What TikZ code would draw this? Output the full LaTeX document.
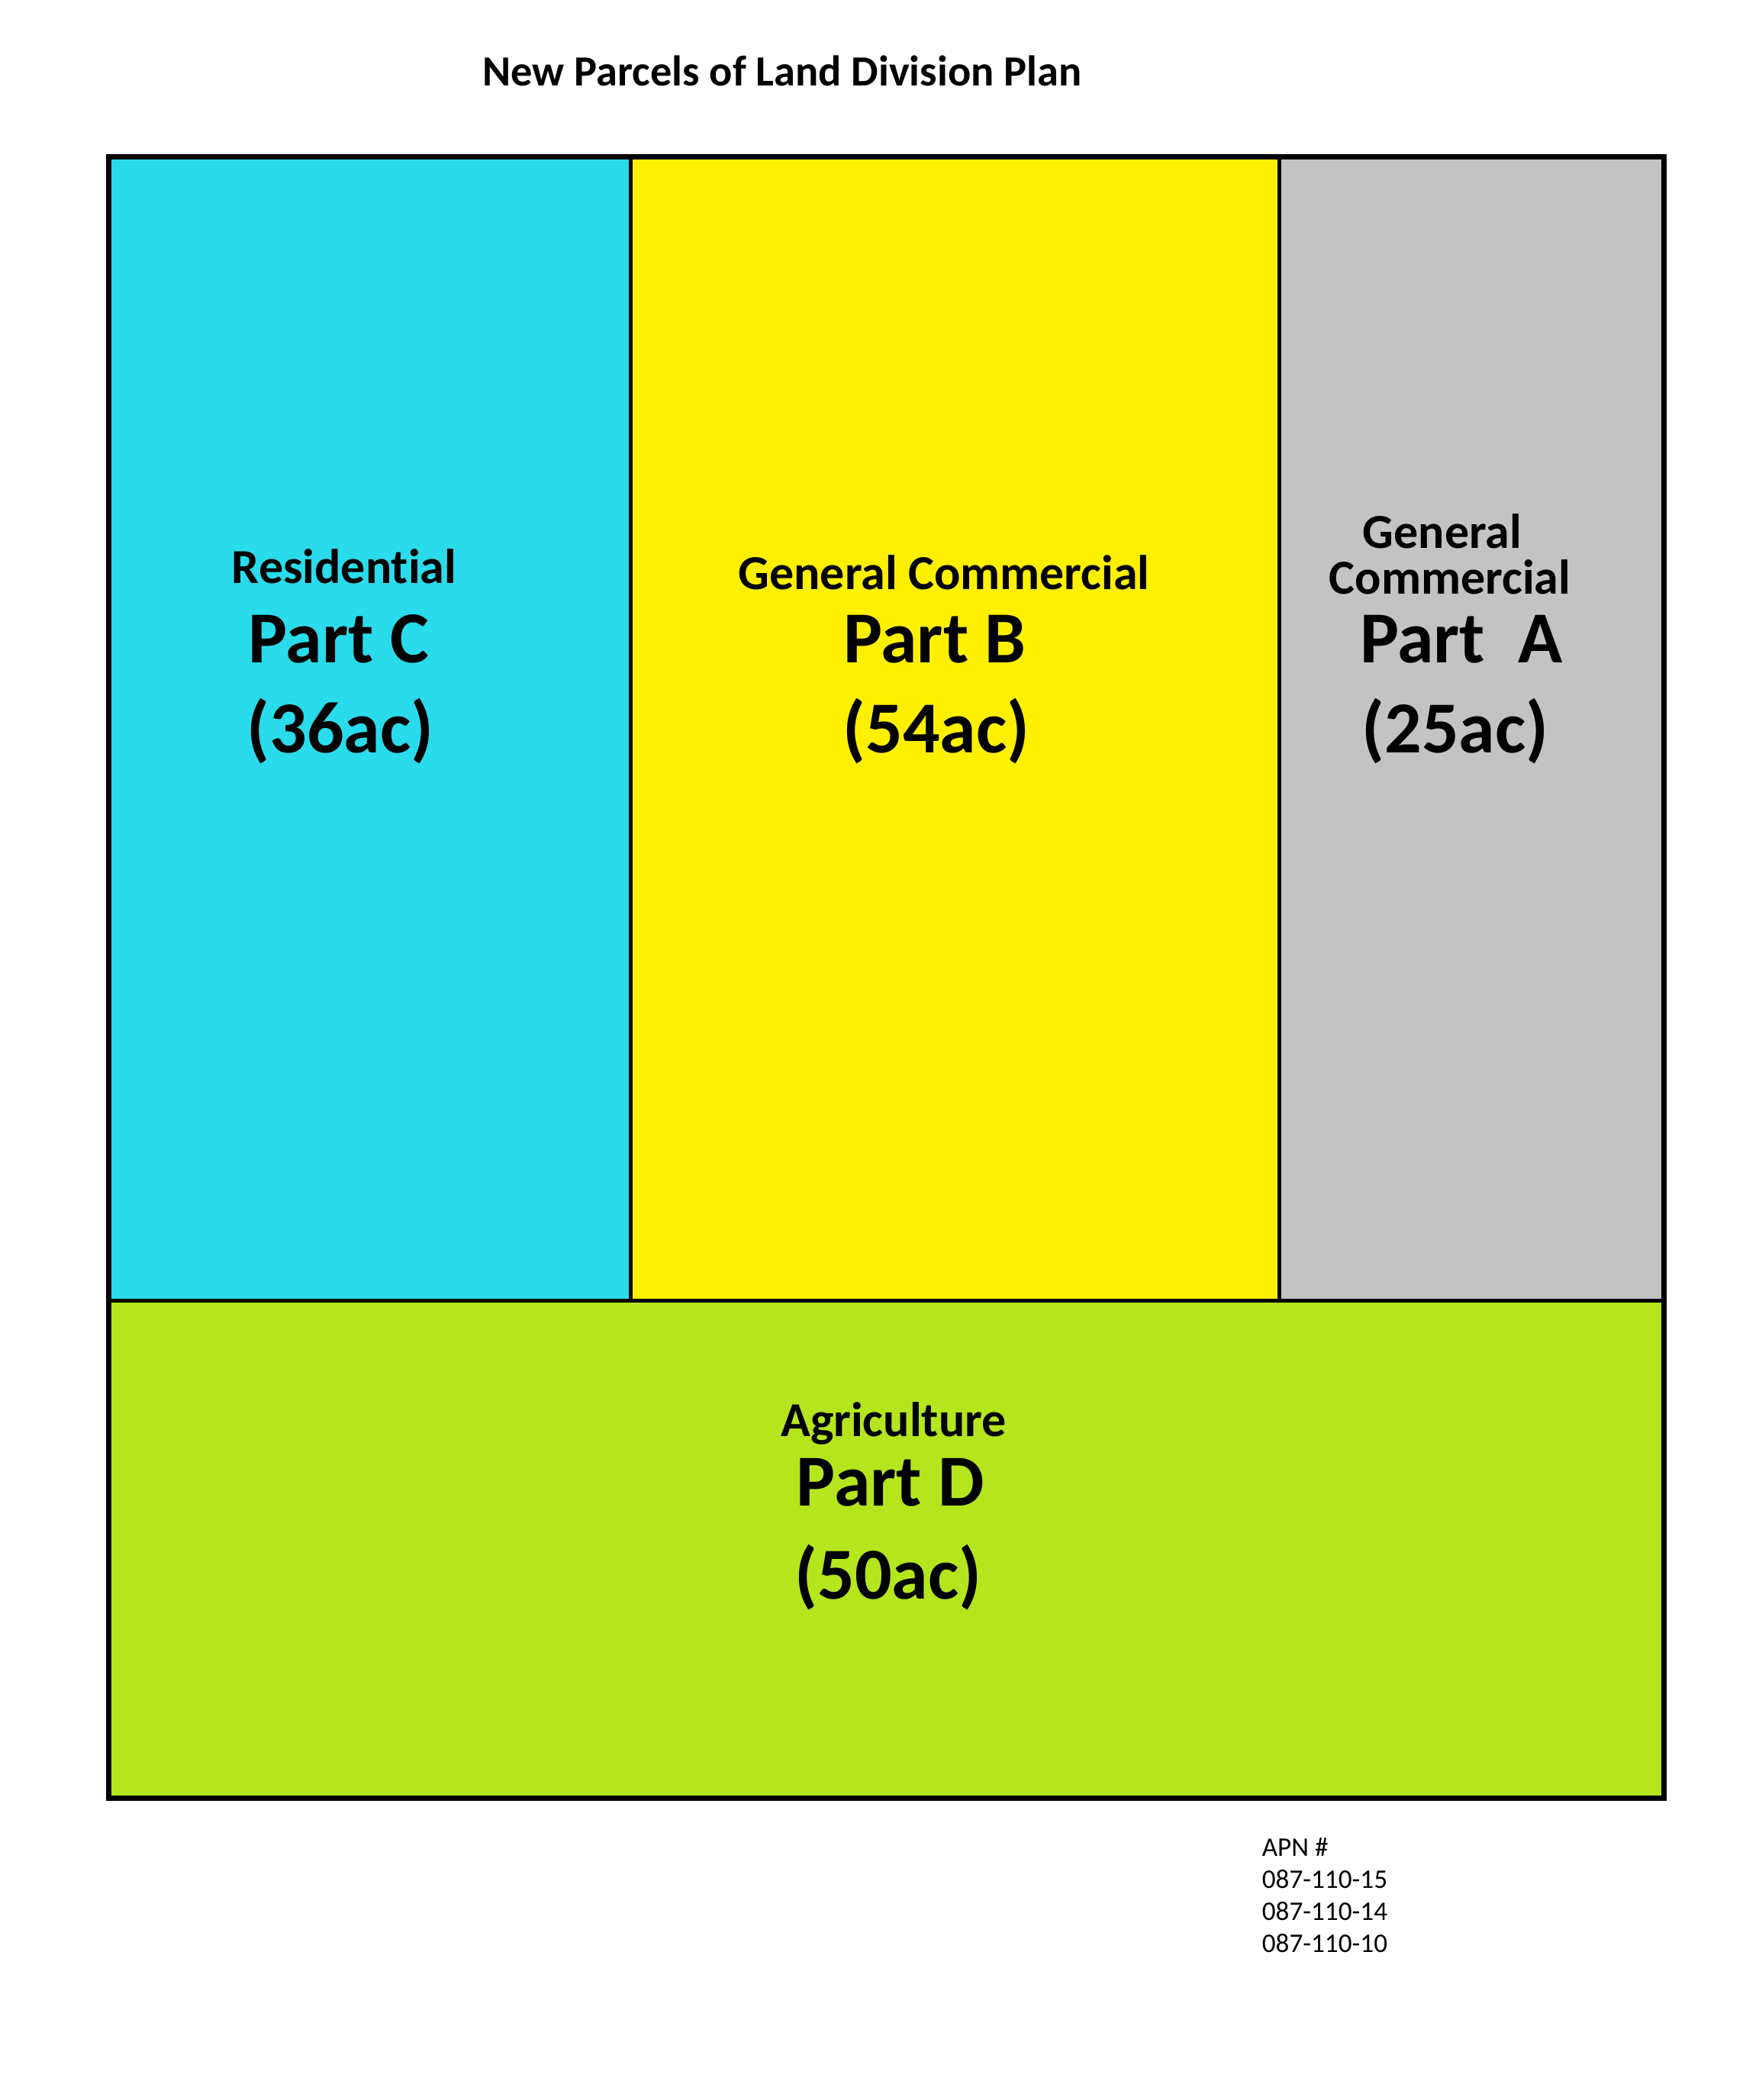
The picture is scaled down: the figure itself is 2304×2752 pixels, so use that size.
\documentclass[tikz,border=0pt]{standalone}
\usepackage{fontspec}
\setmainfont[Ligatures=NoCommon]{Carlito}
\definecolor{resC}{RGB}{42,219,235}
\definecolor{comB}{RGB}{255,240,0}
\definecolor{comA}{RGB}{195,195,195}
\definecolor{agrD}{RGB}{181,230,29}
\tikzset{
  lbl/.style={anchor=base, inner sep=0pt, font=\bfseries\fontsize{16}{18}\selectfont},
  part/.style={anchor=base, inner sep=0pt, font=\bfseries\fontsize{24}{26}\selectfont},
  ttl/.style={anchor=base, inner sep=0pt, font=\bfseries\fontsize{14.1}{16}\selectfont},
  apn/.style={anchor=base west, inner sep=0pt, font=\fontsize{8.8}{10}\selectfont},
}
\begin{document}
\begin{tikzpicture}[x=0.25pt,y=-0.25pt]
\useasboundingbox (0,0) rectangle (2304,2752);
% fills
\fill[resC] (142,205) rectangle (826.5,1704.5);
\fill[comB] (826.5,205) rectangle (1676.5,1704.5);
\fill[comA] (1676.5,205) rectangle (2180,1704.5);
\fill[agrD] (142,1704.5) rectangle (2180,2356);
% inner lines
\draw[line width=1.25pt] (826.5,205) -- (826.5,1704.5);
\draw[line width=1.25pt] (1676.5,205) -- (1676.5,1704.5);
\draw[line width=1.25pt] (142,1704.5) -- (2180,1704.5);
% outer frame
\draw[line width=1.75pt] (142,205) rectangle (2180,2356);
% title
\node[ttl] (title) at (1025,112) {New Parcels of Land Division Plan};
% Part C
\node[lbl] (cuse) at (451,764) {Residential};
\node[part] (cname) at (444,868) {Part C};
\node[part] (carea) at (446,986) {(36ac)};
% Part B
\node[lbl] (buse) at (1237,772) {General Commercial};
\node[part] (bname) at (1225,868) {Part B};
\node[part] (barea) at (1227,986) {(54ac)};
% Part A
\node[lbl] (ause1) at (1890,718) {General};
\node[lbl] (ause2) at (1900,778) {Commercial};
\node[part] (aname) at (1915,868) {Part\ \ A};
\node[part] (aarea) at (1907,986) {(25ac)};
% Part D
\node[lbl] (duse) at (1171,1882) {Agriculture};
\node[part] (dname) at (1167,1973) {Part D};
\node[part] (darea) at (1164,2095) {(50ac)};
% APN
\node[apn] (apn0) at (1653,2432) {APN \#};
\node[apn] (apn1) at (1653,2474) {087-110-15};
\node[apn] (apn2) at (1653,2516) {087-110-14};
\node[apn] (apn3) at (1653,2558) {087-110-10};
\end{tikzpicture}
\end{document}
